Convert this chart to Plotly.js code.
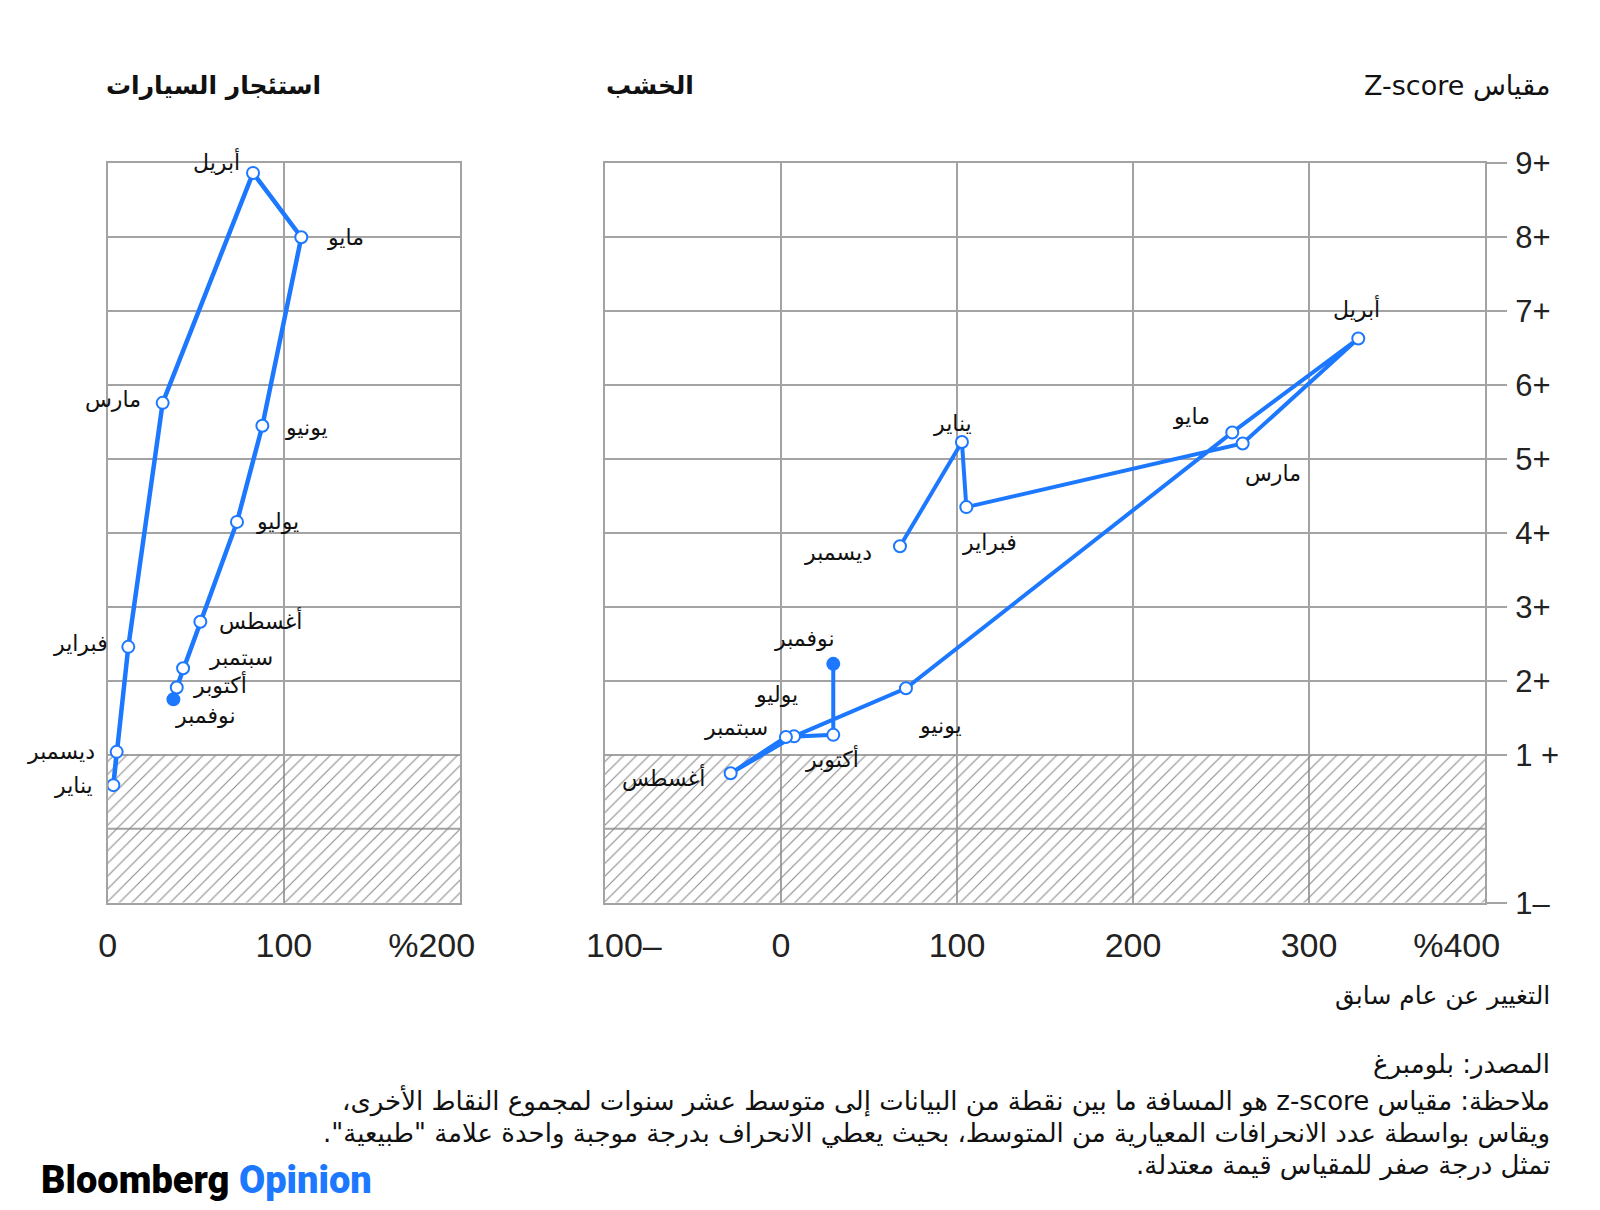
<!DOCTYPE html>
<html>
<head>
<meta charset="utf-8">
<script src="https://cdn.plot.ly/plotly-3.0.1.min.js"></script>
<style>
  html, body { margin: 0; padding: 0; background: #fff; }
  #chart { width: 1600px; height: 1210px; }
</style>
</head>
<body>
<div id="chart"></div>
<script>
// ---------------- DATA ----------------
const months = ['ديسمبر','يناير','فبراير','مارس','أبريل','مايو','يونيو','يوليو','أغسطس','سبتمبر','أكتوبر','نوفمبر'];
const carRentalChange = [5.1, 3.2, 11.7, 31.2, 82.5, 109.9, 87.8, 73.4, 52.6, 42.8, 39.2, 37.3];
const carRentalZ      = [1.04, 0.59, 2.46, 5.76, 8.87, 8.0, 5.45, 4.15, 2.80, 2.17, 1.91, 1.75];
const lumberChange    = [67.6, 102.8, 105.3, 262.3, 328, 256.4, 71, 7.4, -28.6, 2.8, 29.7, 29.7];
const lumberZ         = [3.82, 5.23, 4.35, 5.21, 6.63, 5.36, 1.90, 1.25, 0.75, 1.24, 1.27, 2.23];

const panelTitles = ['استئجار السيارات', 'الخشب'];
const zTickVals  = [9, 8, 7, 6, 5, 4, 3, 2, 1, -1];
const zTickText  = ['9+', '8+', '7+', '6+', '5+', '4+', '3+', '2+', '1 +', '1–'];
const carTickVals = [0, 100, 200];
const carTickText = ['0', '100', '%200'];
const lumTickVals = [-100, 0, 100, 200, 300, 400];
const lumTickText = ['100–', '0', '100', '200', '300', '%400'];
const normalBand = [-1, 1];   // z-score band treated as "normal"
const zRange = [-1, 9];
const carRange = [0, 200];
const lumRange = [-100, 400];

const zTitle = 'مقياس Z-score';
const xTitle = 'التغيير عن عام سابق';
const sourceText = 'المصدر: بلومبرغ';
const noteLines = [
  'ملاحظة: مقياس z-score هو المسافة ما بين نقطة من البيانات إلى متوسط عشر سنوات لمجموع النقاط الأخرى،',
  'ويقاس بواسطة عدد الانحرافات المعيارية من المتوسط، بحيث يعطي الانحراف بدرجة موجبة واحدة علامة "طبيعية".',
  'تمثل درجة صفر للمقياس قيمة معتدلة.'
];

// ---------------- STYLE ----------------
const BLUE = '#1c78ff';
const GRID = '#a3a3a3';
const AR_FONT = 'DejaVu Sans, Noto Sans, sans-serif';
const NUM_FONT = 'Liberation Sans, Arial, sans-serif';
const RLE = '\u202B', PDF = '\u202C';
const rtl = s => RLE + s + PDF;
const FS = '\u2007'; // figure space, used to nudge sign-bearing tick labels like the original
// visual nudge of tick labels whose sign hangs outside the numeral
const padTick = t => t.startsWith('%') ? t + FS.repeat(3) : (t.endsWith('–') ? FS.repeat(2) + t : t);

// label placement per month: [xanchor, xshift, yshift]
const carLabelPos = [
  ['right',-20,0], ['right',-18,0], ['right',-18,3], ['right',-20,3], ['right',-11,11], ['left',24,0],
  ['left',21,-2], ['left',17,0], ['left',17,1], ['left',24,11], ['left',14,3], ['left',0,-16]
];
const lumLabelPos = [
  ['right',-26,-6], ['center',-9,19], ['left',-6,-35], ['left',0,-30], ['center',-2,30], ['right',-20,16],
  ['left',11,-37], ['right',6,42], ['right',-24,-5], ['right',-16,10], ['center',-1,-24], ['right',4,25]
];

const px = v => v / 1600;
const py = v => 1 - v / 1210;

function bandTrace(xr, xa, ya) {
  return {
    type: 'scatter', mode: 'lines', xaxis: xa, yaxis: ya,
    x: [xr[0], xr[1], xr[1], xr[0], xr[0]],
    y: [normalBand[0], normalBand[0], normalBand[1], normalBand[1], normalBand[0]],
    fill: 'toself', fillcolor: 'rgba(0,0,0,0)',
    fillpattern: { shape: '/', fgcolor: '#8a8a8a', bgcolor: 'rgba(0,0,0,0)', size: 9, solidity: 0.12 },
    line: { width: 0, color: 'rgba(0,0,0,0)' },
    hoverinfo: 'skip', showlegend: false
  };
}

function pathTrace(xs, ys, xa, ya, lw) {
  return {
    type: 'scatter', mode: 'lines+markers', xaxis: xa, yaxis: ya,
    x: xs, y: ys,
    line: { color: BLUE, width: lw },
    marker: {
      symbol: 'circle', size: 12,
      color: xs.map((_, i) => i === xs.length - 1 ? BLUE : '#ffffff'),
      line: { color: BLUE, width: 2 }
    },
    hoverinfo: 'skip', showlegend: false
  };
}

const data = [
  bandTrace(carRange, 'x', 'y'),
  bandTrace(lumRange, 'x2', 'y2'),
  pathTrace(carRentalChange, carRentalZ, 'x', 'y', 4.5),
  pathTrace(lumberChange, lumberZ, 'x2', 'y2', 4)
];

const annotations = [];
function monthLabels(xs, ys, pos, xr, yr) {
  months.forEach((m, i) => {
    annotations.push({
      xref: xr, yref: yr, x: xs[i], y: ys[i], text: m, showarrow: false,
      xanchor: pos[i][0], yanchor: 'middle', xshift: pos[i][1], yshift: pos[i][2],
      font: { family: AR_FONT, size: 22, color: '#111' }
    });
  });
}
monthLabels(carRentalChange, carRentalZ, carLabelPos, 'x', 'y');
monthLabels(lumberChange, lumberZ, lumLabelPos, 'x2', 'y2');

// titles
annotations.push({ xref: 'paper', yref: 'paper', x: px(104), y: py(86), xanchor: 'left', yanchor: 'middle',
  text: '<b>' + panelTitles[0] + '</b>', showarrow: false, font: { family: AR_FONT, size: 25, color: '#111' } });
annotations.push({ xref: 'paper', yref: 'paper', x: px(604), y: py(86), xanchor: 'left', yanchor: 'middle',
  text: '<b>' + panelTitles[1] + '</b>', showarrow: false, font: { family: AR_FONT, size: 25, color: '#111' } });
annotations.push({ xref: 'paper', yref: 'paper', x: px(1552), y: py(86), xanchor: 'right', yanchor: 'middle',
  text: rtl(zTitle), showarrow: false, font: { family: AR_FONT, size: 27, color: '#111' } });
annotations.push({ xref: 'paper', yref: 'paper', x: px(1552), y: py(995), xanchor: 'right', yanchor: 'middle',
  text: rtl(xTitle), showarrow: false, font: { family: AR_FONT, size: 25, color: '#111' } });
annotations.push({ xref: 'paper', yref: 'paper', x: px(1552), y: py(1064), xanchor: 'right', yanchor: 'middle',
  text: rtl(sourceText), showarrow: false, font: { family: AR_FONT, size: 26, color: '#111' } });
const noteY = [1100, 1133, 1165];
noteLines.forEach((t, i) => {
  annotations.push({ xref: 'paper', yref: 'paper', x: px(1552), y: py(noteY[i]), xanchor: 'right', yanchor: 'middle',
    text: rtl(t), showarrow: false, font: { family: AR_FONT, size: 26, color: '#111' } });
});
annotations.push({ xref: 'paper', yref: 'paper', x: px(39), y: py(1180), xanchor: 'left', yanchor: 'middle',
  text: 'Bloomberg <span style="color:' + BLUE + '">Opinion</span>', showarrow: false,
  font: { family: 'Roboto, Liberation Sans, sans-serif', size: 38, weight: 900, color: '#000' } });

const yTop = py(163.3), yBot = py(902.7);

const axisCommon = {
  showgrid: true, gridcolor: GRID, gridwidth: 2, zeroline: false,
  showline: true, mirror: true, linecolor: GRID, linewidth: 2, fixedrange: true
};

const layout = {
  width: 1600, height: 1210,
  margin: { l: 0, r: 0, t: 0, b: 0, pad: 0 },
  paper_bgcolor: '#fff', plot_bgcolor: '#fff',
  showlegend: false, hovermode: false,
  font: { family: AR_FONT, color: '#111' },
  xaxis: Object.assign({}, axisCommon, {
    domain: [px(107.7), px(460)], range: carRange, anchor: 'y',
    tickvals: carTickVals, ticktext: carTickText.map(padTick), ticks: '', ticklabelstandoff: 11,
    tickfont: { family: NUM_FONT, size: 34, color: '#222' }
  }),
  yaxis: Object.assign({}, axisCommon, {
    domain: [yBot, yTop], range: zRange, anchor: 'x',
    tickvals: zTickVals, showticklabels: false, ticks: ''
  }),
  xaxis2: Object.assign({}, axisCommon, {
    domain: [px(605), px(1485)], range: lumRange, anchor: 'y2',
    tickvals: lumTickVals, ticktext: lumTickText.map(padTick), ticks: '', ticklabelstandoff: 11,
    tickfont: { family: NUM_FONT, size: 34, color: '#222' }
  }),
  yaxis2: Object.assign({}, axisCommon, {
    domain: [yBot, yTop], range: zRange, anchor: 'x2', side: 'right',
    tickvals: zTickVals, ticktext: zTickText, ticks: 'outside', ticklen: 20, tickwidth: 2, tickcolor: GRID,
    ticklabelstandoff: 2,
    tickfont: { family: NUM_FONT, size: 31, color: '#222' }
  }),
  shapes: [
    { type: 'line', xref: 'x domain', yref: 'y', x0: 0, x1: 1, y0: 0, y1: 0, layer: 'below', line: { color: GRID, width: 2 } },
    { type: 'line', xref: 'x2 domain', yref: 'y2', x0: 0, x1: 1, y0: 0, y1: 0, layer: 'below', line: { color: GRID, width: 2 } }
  ],
  annotations: annotations
};

Plotly.newPlot('chart', data, layout, { staticPlot: true, displayModeBar: false });
</script>
</body>
</html>
